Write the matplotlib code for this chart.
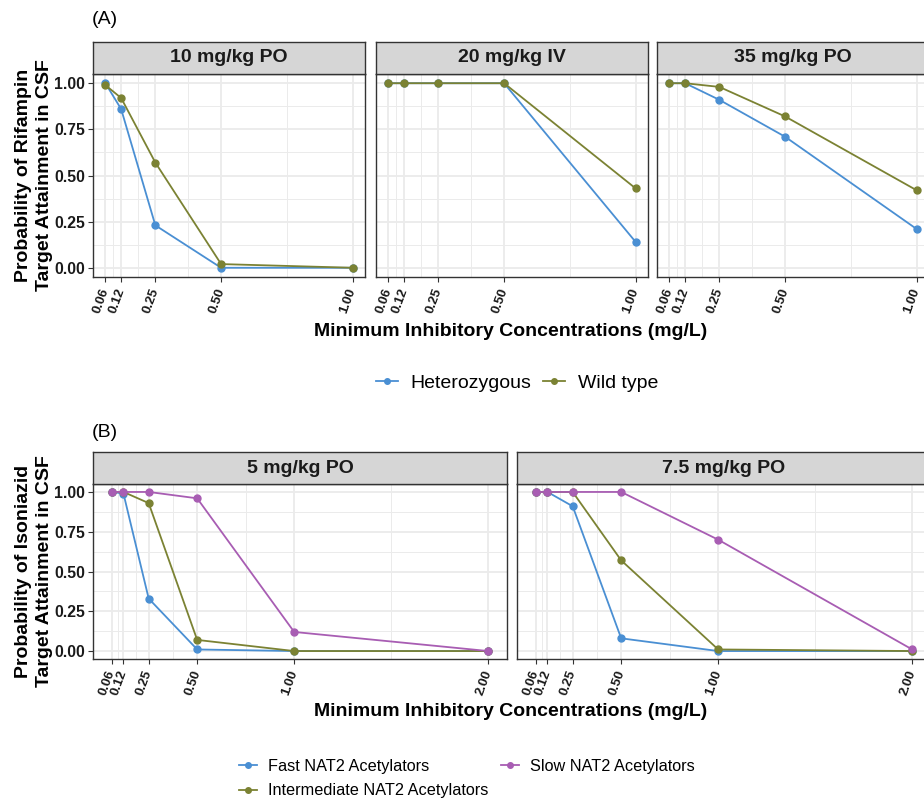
import matplotlib
matplotlib.use("Agg")
import matplotlib.pyplot as plt
from matplotlib.lines import Line2D
import numpy as np

plt.rcParams['font.family'] = ['Liberation Sans', 'DejaVu Sans']

# ---------------- data ----------------
mic_a = [0.06, 0.12, 0.25, 0.50, 1.00]
mic_a_labels = ["0.06", "0.12", "0.25", "0.50", "1.00"]
panels_a = ["10 mg/kg PO", "20 mg/kg IV", "35 mg/kg PO"]
het = {
    "10 mg/kg PO": [1.00, 0.86, 0.23, 0.00, 0.00],
    "20 mg/kg IV": [1.00, 1.00, 1.00, 1.00, 0.14],
    "35 mg/kg PO": [1.00, 1.00, 0.91, 0.71, 0.21],
}
wild = {
    "10 mg/kg PO": [0.99, 0.92, 0.57, 0.02, 0.00],
    "20 mg/kg IV": [1.00, 1.00, 1.00, 1.00, 0.43],
    "35 mg/kg PO": [1.00, 1.00, 0.98, 0.82, 0.42],
}

mic_b = [0.06, 0.12, 0.25, 0.50, 1.00, 2.00]
mic_b_labels = ["0.06", "0.12", "0.25", "0.50", "1.00", "2.00"]
panels_b = ["5 mg/kg PO", "7.5 mg/kg PO"]
fast = {
    "5 mg/kg PO": [1.00, 0.99, 0.33, 0.01, 0.00, 0.00],
    "7.5 mg/kg PO": [1.00, 1.00, 0.91, 0.08, 0.00, 0.00],
}
inter = {
    "5 mg/kg PO": [1.00, 1.00, 0.93, 0.07, 0.00, 0.00],
    "7.5 mg/kg PO": [1.00, 1.00, 1.00, 0.57, 0.01, 0.00],
}
slow = {
    "5 mg/kg PO": [1.00, 1.00, 1.00, 0.96, 0.12, 0.00],
    "7.5 mg/kg PO": [1.00, 1.00, 1.00, 1.00, 0.70, 0.01],
}
yticks = [0.00, 0.25, 0.50, 0.75, 1.00]
ytick_labels = ["0.00", "0.25", "0.50", "0.75", "1.00"]

BLUE = "#4a8fd3"
OLIVE = "#7b8233"
PURPLE = "#a85db3"
GRID = "#ebebeb"
BORDER = "#333333"
STRIP = "#d6d6d6"

W, H = 924, 802
fig = plt.figure(figsize=(W / 100, H / 100), dpi=100)


def add_px_axes(l, r, t, b, **kw):
    return fig.add_axes([l / W, 1 - b / H, (r - l) / W, (b - t) / H], **kw)


def style_panel(ax, xs, xlabels, first):
    rng = xs[-1] - xs[0]
    ax.set_xlim(xs[0] - 0.05 * rng, xs[-1] + 0.05 * rng)
    ax.set_ylim(-0.05, 1.05)
    ax.set_xticks(xs)
    ax.set_xticklabels(xlabels, rotation=70, ha='right', va='center',
                       rotation_mode='anchor', fontsize=9.5, fontweight='bold',
                       color='#1a1a1a')
    minx = [(a + b) / 2 for a, b in zip(xs[:-1], xs[1:])]
    ax.set_xticks(minx, minor=True)
    ax.set_yticks(yticks)
    ax.set_yticks([0.125, 0.375, 0.625, 0.875], minor=True)
    if first:
        ax.set_yticklabels(ytick_labels, fontsize=11.3, fontweight='bold', color='#1a1a1a')
        ax.tick_params(axis='y', which='major', length=3.5, width=0.8, color=BORDER, pad=2)
    else:
        ax.tick_params(axis='y', which='major', length=0, labelleft=False)
    ax.tick_params(axis='x', which='major', length=3.5, width=0.8, color=BORDER, pad=5)
    ax.tick_params(which='minor', length=0)
    ax.grid(True, which='major', color=GRID, lw=1.3, zorder=0)
    ax.grid(True, which='minor', color=GRID, lw=0.7, zorder=0)
    ax.set_axisbelow(True)
    for s in ax.spines.values():
        s.set_color(BORDER)
        s.set_linewidth(1.0)


def add_strip(l, r, t, b, text):
    sax = add_px_axes(l, r, t, b)
    sax.set_facecolor(STRIP)
    sax.set_xticks([])
    sax.set_yticks([])
    for s in sax.spines.values():
        s.set_color(BORDER)
        s.set_linewidth(1.0)
    sax.text(0.5, 0.5, text, transform=sax.transAxes, ha='center', va='center',
             fontsize=14, fontweight='bold', color='#1a1a1a')


def plot_series(ax, xs, ys, color):
    ax.plot(xs, ys, color=color, lw=1.3, marker='o', ms=5, zorder=3, clip_on=False)

# ---------------- Panel A ----------------
a_bounds = [(93, 365), (376, 648), (657, 929)]
for i, (name, (l, r)) in enumerate(zip(panels_a, a_bounds)):
    ax = add_px_axes(l, r, 74, 277)
    style_panel(ax, mic_a, mic_a_labels, i == 0)
    plot_series(ax, mic_a, het[name], BLUE)
    plot_series(ax, mic_a, wild[name], OLIVE)
    add_strip(l, r, 42, 74, name)

fig.text(92 / W, 1 - 20 / H, "(A)", fontsize=14, ha='left', va='center')
fig.text(511 / W, 1 - 332 / H, "Minimum Inhibitory Concentrations (mg/L)",
         fontsize=14, fontweight='bold', ha='center', va='center')
fig.text(34 / W, 1 - 175 / H, "Probability of Rifampin\nTarget Attainment in CSF",
         fontsize=14, fontweight='bold', ha='center', va='center', rotation=90,
         linespacing=1.25)

hA = [Line2D([], [], color=BLUE, lw=1.3, marker='o', ms=4),
      Line2D([], [], color=OLIVE, lw=1.3, marker='o', ms=4)]
fig.legend(hA, ["Heterozygous", "Wild type"], loc='center', ncol=2,
           bbox_to_anchor=(517 / W, 1 - 383 / H), frameon=False, fontsize=14,
           handlelength=1.13, handletextpad=0.67, columnspacing=0.6)

# ---------------- Panel B ----------------
b_bounds = [(93, 507), (517, 931)]
for i, (name, (l, r)) in enumerate(zip(panels_b, b_bounds)):
    ax = add_px_axes(l, r, 484, 659)
    style_panel(ax, mic_b, mic_b_labels, i == 0)
    plot_series(ax, mic_b, fast[name], BLUE)
    plot_series(ax, mic_b, inter[name], OLIVE)
    plot_series(ax, mic_b, slow[name], PURPLE)
    add_strip(l, r, 452, 484, name)

fig.text(92 / W, 1 - 433 / H, "(B)", fontsize=14, ha='left', va='center')
fig.text(511 / W, 1 - 712 / H, "Minimum Inhibitory Concentrations (mg/L)",
         fontsize=14, fontweight='bold', ha='center', va='center')
fig.text(34 / W, 1 - 571 / H, "Probability of Isoniazid\nTarget Attainment in CSF",
         fontsize=14, fontweight='bold', ha='center', va='center', rotation=90,
         linespacing=1.25)

hB = [Line2D([], [], color=BLUE, lw=1.3, marker='o', ms=4),
      Line2D([], [], color=OLIVE, lw=1.3, marker='o', ms=4),
      Line2D([], [], color=PURPLE, lw=1.3, marker='o', ms=4)]
fig.legend(hB, ["Fast NAT2 Acetylators", "Intermediate NAT2 Acetylators",
                "Slow NAT2 Acetylators"], loc='center', ncol=2,
           bbox_to_anchor=(467 / W, 1 - 778.5 / H), frameon=False, fontsize=11.7,
           handlelength=1.1, handletextpad=0.7, columnspacing=0.75,
           labelspacing=0.6)

fig.savefig("out.png", dpi=100)
